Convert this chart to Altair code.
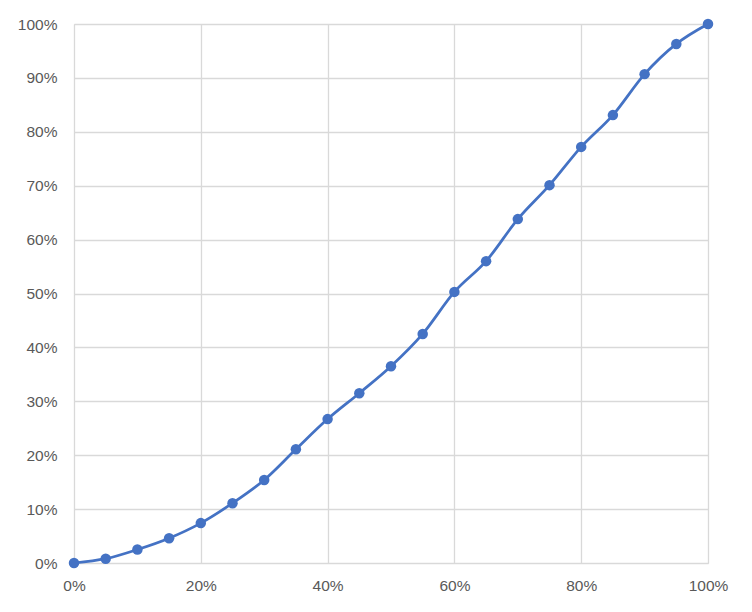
import altair as alt
import pandas as pd

x_vals = [0, 0.05, 0.10, 0.15, 0.20, 0.25, 0.30, 0.35, 0.40, 0.45, 0.50,
          0.55, 0.60, 0.65, 0.70, 0.75, 0.80, 0.85, 0.90, 0.95, 1.00]
y_vals = [0, 0.008, 0.025, 0.046, 0.074, 0.111, 0.154, 0.211, 0.267, 0.315, 0.365,
          0.425, 0.503, 0.560, 0.638, 0.701, 0.772, 0.831, 0.907, 0.963, 1.00]

df = pd.DataFrame({"x": x_vals, "y": y_vals})

x_enc = alt.X("x:Q", scale=alt.Scale(domain=[0, 1], nice=False),
              axis=alt.Axis(format=".0%", values=[0, 0.2, 0.4, 0.6, 0.8, 1.0],
                            title=None, grid=True, gridColor="#D9D9D9", gridWidth=1.3,
                            domain=False, ticks=False, labelPadding=15,
                            labelFlush=False,
                            labelFontSize=15.5, labelColor="#595959",
                            labelFont="Liberation Sans"))
y_enc = alt.Y("y:Q", scale=alt.Scale(domain=[0, 1], nice=False),
              axis=alt.Axis(format=".0%", values=[i / 10 for i in range(11)],
                            title=None, grid=True, gridColor="#D9D9D9", gridWidth=1.3,
                            domain=False, ticks=False, labelPadding=17,
                            labelFlush=False,
                            labelFontSize=15.5, labelColor="#595959",
                            labelFont="Liberation Sans"))

line = alt.Chart(df).mark_line(color="#4472C4", strokeWidth=2.75,
                               interpolate="monotone").encode(x=x_enc, y=y_enc)
pts = alt.Chart(df).mark_circle(color="#4472C4", size=110, opacity=1).encode(x="x:Q", y="y:Q")

chart = (line + pts).properties(
    width=634, height=539,
    autosize=alt.AutoSizeParams(type="none"),
    padding={"left": 66, "top": 16, "right": 36, "bottom": 41},
).configure_view(stroke="#D9D9D9", strokeWidth=1.3).configure(background="white")

chart.save("out.html", embed_options={"renderer": "svg", "actions": False})
